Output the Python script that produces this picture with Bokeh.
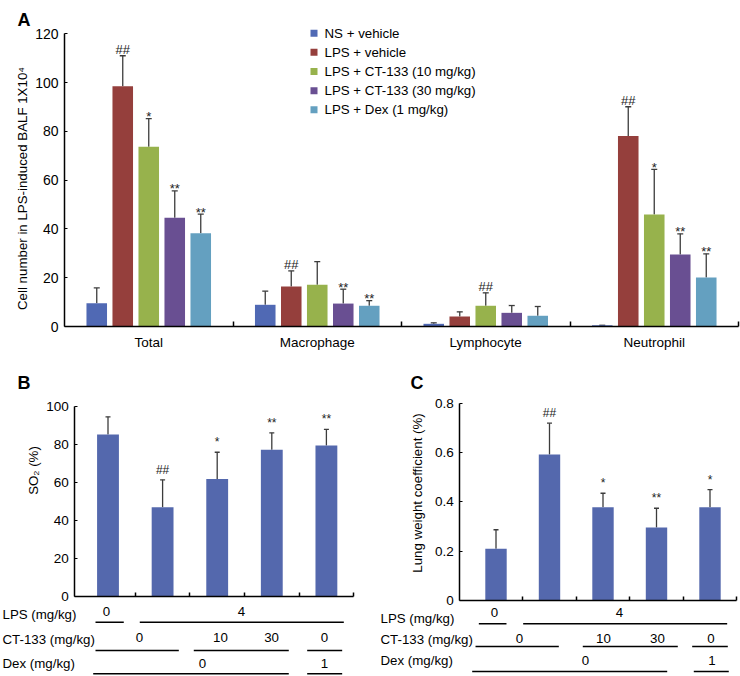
import numpy as np
from bokeh.plotting import figure
from bokeh.models import Range1d, LinearAxis, FixedTicker, ColumnDataSource, Whisker, TeeHead
from bokeh.layouts import column, row
from bokeh.embed import file_html
from bokeh.resources import INLINE
from bokeh.core.properties import value

# ---------------- data: panel A (BALF cell counts, x10^4) ----------------
cell_types = ["Total", "Macrophage", "Lymphocyte", "Neutrophil"]
group_names = ["NS + vehicle", "LPS + vehicle", "LPS + CT-133 (10 mg/kg)",
               "LPS + CT-133 (30 mg/kg)", "LPS + Dex (1 mg/kg)"]
a_ns_vehicle = [9.5, 8.9, 1.1, 0.5]
a_lps_vehicle = [98.5, 16.4, 4.1, 78.1]
a_lps_ct10 = [73.7, 17.1, 8.5, 45.9]
a_lps_ct30 = [44.6, 9.4, 5.6, 29.5]
a_lps_dex = [38.2, 8.5, 4.4, 20.1]
a_ns_vehicle_sd = [6.3, 5.6, 0.4, 0.0]
a_lps_vehicle_sd = [12.5, 6.4, 1.9, 12.0]
a_lps_ct10_sd = [11.5, 9.5, 5.3, 18.5]
a_lps_ct30_sd = [11.0, 5.9, 3.0, 8.5]
a_lps_dex_sd = [7.9, 2.1, 3.8, 9.7]
a_ns_vehicle_sig = ["", "", "", ""]
a_lps_vehicle_sig = ["##", "##", "", "##"]
a_lps_ct10_sig = ["*", "", "##", "*"]
a_lps_ct30_sig = ["**", "**", "", "**"]
a_lps_dex_sig = ["**", "**", "", "**"]
a_ticks = [0, 20, 40, 60, 80, 100, 120]

# ---------------- data: panel B (SO2 %) ----------------
b_mean = [85.1, 46.9, 61.8, 77.1, 79.3]
b_sd = [9.3, 14.4, 14.0, 8.9, 8.5]
b_sig = ["", "##", "*", "**", "**"]
b_ticks = [0, 20, 40, 60, 80, 100]

# ---------------- data: panel C (lung weight coefficient %) ----------------
c_mean = [0.21, 0.592, 0.378, 0.296, 0.378]
c_sd = [0.077, 0.127, 0.057, 0.078, 0.072]
c_sig = ["", "##", "*", "**", "*"]
c_ticks = [0, 0.2, 0.4, 0.6, 0.8]

# ---------------- dose table under B and C ----------------
dose_rows = ["LPS (mg/kg)", "CT-133 (mg/kg)", "Dex (mg/kg)"]
lps_dose = ["0", "4"]
ct133_dose = ["0", "10", "30", "0"]
dex_dose = ["0", "1"]

# ---------------- layout / style (positions in category units / px) ----------------
FONT = "Liberation Sans"
A_COLORS = ["#5069b4", "#953f3c", "#97b24c", "#694f92", "#64a0c0"]
BC_COLOR = "#5468ad"
ERR_COLOR = "#3c3c3c"

B_TABLE = dict(
    num_x=[[0.97, 3.445], [1.577, 3.06, 3.995, 4.965], [2.731, 4.965]],
    spans=[[(0.771, 1.289), (1.582, 5.319)],
           [(0.771, 2.297), (2.571, 4.311), (4.648, 5.289)],
           [(0.729, 4.311), (4.648, 5.289)]],
    row_dy=[18, 43.3, 66.7], num_dy=[15, 40.7, 66.7], line_dy=[25.7, 54, 77.3], label_px=2)
C_TABLE = dict(
    num_x=[[0.972, 3.308], [1.439, 3.009, 4.019, 5.019], [2.673, 5.037]],
    spans=[[(0.679, 1.196), (1.508, 5.321)],
           [(0.617, 2.174), (2.622, 4.398), (4.667, 5.333)],
           [(0.555, 4.2), (4.697, 5.351)]],
    row_dy=[18.3, 39.3, 60], num_dy=[11.7, 38, 60], line_dy=[23.3, 46, 71], label_px=10)


def base_fig(W, H, x_anchor, x_anchor_px, xs, y0_px, ys):
    x_start = x_anchor - x_anchor_px / xs
    x_end = x_start + W / xs
    y_end = y0_px / ys
    y_start = y_end - H / ys
    p = figure(width=W, height=H, x_range=Range1d(x_start, x_end),
               y_range=Range1d(y_start, y_end), x_axis_type=None, y_axis_type=None,
               toolbar_location=None, output_backend="svg", min_border=0)
    p.outline_line_color = None
    p.background_fill_color = "white"
    p.border_fill_color = "white"
    fx = lambda px: x_start + px / xs
    fy = lambda py: y_end - py / ys
    return p, fx, fy


def txt(p, x, y, s, size="13px", align="left", baseline="middle", angle=0.0, bold=False):
    p.text(x=[x], y=[y], text=[s], text_font=value(FONT), text_font_size=value(size),
           text_align=align, text_baseline=baseline, angle=angle,
           text_font_style="bold" if bold else "normal", text_color="black")


def style_axis(ax, size="13px"):
    ax.axis_line_color = "black"
    ax.axis_line_width = 1.5
    ax.major_tick_line_color = "black"
    ax.major_tick_line_width = 1.2
    ax.minor_tick_line_color = "black"
    ax.minor_tick_line_width = 1.5
    ax.major_label_text_font = FONT
    ax.major_label_text_font_size = size
    ax.major_label_text_color = "black"


def add_bars(p, xs_, means, sds, sigs, width, color, cap, gaps, sig_size):
    means = np.asarray(means, float)
    upper = means + np.asarray(sds, float)
    src = ColumnDataSource(dict(x=list(xs_), top=list(means), upper=list(upper), sig=sigs,
                                yoff=[-gaps[1] if "#" in s else -gaps[0] for s in sigs]))
    p.vbar(x="x", top="top", bottom=0, width=width, source=src, fill_color=color, line_color=None)
    p.add_layout(Whisker(source=src, base="x", upper="upper", lower="top", dimension="height",
                         line_color=ERR_COLOR, line_width=1.3,
                         upper_head=TeeHead(size=cap, line_color=ERR_COLOR, line_width=1.3),
                         lower_head=None))
    p.text(x="x", y="upper", text="sig", source=src, y_offset="yoff",
           text_font=value(FONT), text_font_size=value(sig_size),
           text_align="center", text_baseline="alphabetic", text_color="#222222")


# ======================= Panel A =======================
pA, AX, AY = base_fig(740, 352, 0, 64, 168.5, 326, 2.439)
n_cat = len(cell_types)
cat_x = np.arange(n_cat) + 0.5
a_means = [a_ns_vehicle, a_lps_vehicle, a_lps_ct10, a_lps_ct30, a_lps_dex]
a_sds = [a_ns_vehicle_sd, a_lps_vehicle_sd, a_lps_ct10_sd, a_lps_ct30_sd, a_lps_dex_sd]
a_sigs = [a_ns_vehicle_sig, a_lps_vehicle_sig, a_lps_ct10_sig, a_lps_ct30_sig, a_lps_dex_sig]
step = 0.1543
for i in range(len(group_names)):
    add_bars(pA, cat_x + (i - 2) * step, a_means[i], a_sds[i], a_sigs[i], 0.122,
             A_COLORS[i], 6, (2, 6), "13px")

yA = LinearAxis(fixed_location=0, bounds=(0, 120), ticker=FixedTicker(ticks=a_ticks))
style_axis(yA, "14px")
yA.major_tick_in = 3
yA.major_tick_out = 0
yA.major_label_standoff = 6
pA.add_layout(yA, "left")

xA = LinearAxis(fixed_location=0, bounds=(0, n_cat),
                ticker=FixedTicker(ticks=list(cat_x), minor_ticks=list(range(1, n_cat + 1))))
style_axis(xA, "13.5px")
xA.major_tick_in = 0
xA.major_tick_out = 0
xA.minor_tick_in = 5
xA.minor_tick_out = 0
xA.major_label_standoff = 8
xA.major_label_overrides = {float(x): c for x, c in zip(cat_x, cell_types)}
pA.add_layout(xA, "below")

txt(pA, AX(22), AY(188), "Cell number in LPS-induced BALF 1X10\u2074", angle=np.pi / 2,
    align="center", size="13.3px")
txt(pA, AX(17), AY(19.5), "A", size="18px", baseline="alphabetic", bold=True)

# legend
row_fy = [32.7 + 19.15 * i for i in range(len(group_names))]
pA.scatter(x=[AX(313.5)] * len(group_names), y=[AY(v) for v in row_fy], marker="square",
           size=7, fill_color=A_COLORS, line_color=None)
pA.text(x=[AX(324)] * len(group_names), y=[AY(v) for v in row_fy], text=group_names,
        text_font=value(FONT), text_font_size=value("13.3px"), text_align="left",
        text_baseline="middle", text_color="black")


# ======================= Panels B and C =======================
def dose_panel(means, sds, sigs, ticks, x_anchor_px, xs, y0_px, ys, axis_x0, ybound,
               ylabel, ylabel_pos, letter, letter_px, table, overrides=None):
    p, X, Y = base_fig(370, 324, 1, x_anchor_px, xs, y0_px, ys)
    n = len(means)
    bx = np.arange(1, n + 1)
    add_bars(p, bx, means, sds, sigs, 0.4, BC_COLOR, 5, (10, 10), "12px")

    ya = LinearAxis(fixed_location=axis_x0, bounds=(0, ybound), ticker=FixedTicker(ticks=ticks))
    style_axis(ya, "13.5px")
    ya.major_tick_in = 3
    ya.major_tick_out = 0
    ya.major_label_standoff = 6
    if overrides:
        ya.major_label_overrides = overrides
    p.add_layout(ya, "left")

    xa = LinearAxis(fixed_location=0, bounds=(axis_x0, n + 0.5),
                    ticker=FixedTicker(ticks=[], minor_ticks=list(bx + 0.5)))
    style_axis(xa)
    xa.major_tick_in = 0
    xa.major_tick_out = 0
    xa.minor_tick_in = 4
    xa.minor_tick_out = 0
    xa.major_label_text_font_size = "0px"
    p.add_layout(xa, "below")

    txt(p, X(ylabel_pos[0]), Y(ylabel_pos[1]), ylabel, angle=np.pi / 2, align="center",
        size="13.3px")
    txt(p, X(letter_px), Y(30), letter, size="18px", baseline="alphabetic", bold=True)

    doses = [lps_dose, ct133_dose, dex_dose]
    for r, name in enumerate(dose_rows):
        txt(p, X(table["label_px"]), Y(y0_px + table["row_dy"][r]), name, size="13.3px")
        yn = Y(y0_px + table["num_dy"][r])
        p.text(x=table["num_x"][r], y=[yn] * len(doses[r]), text=doses[r],
               text_font=value(FONT), text_font_size=value("13.3px"), text_align="center",
               text_baseline="middle", text_color="black")
        yl = Y(y0_px + table["line_dy"][r])
        sp = table["spans"][r]
        p.segment(x0=[s[0] for s in sp], x1=[s[1] for s in sp], y0=[yl] * len(sp),
                  y1=[yl] * len(sp), line_color="black", line_width=1.4)
    return p


pB = dose_panel(b_mean, b_sd, b_sig, b_ticks, 107.5, 54.6, 244, 1.903, 0.39, 100,
                "SO\u2082 (%)", (33, 118), "B", 17, B_TABLE)
pC = dose_panel(c_mean, c_sd, c_sig, c_ticks, 125.5, 53.5, 248, 246.6, 0.323, 0.8,
                "Lung weight coefficient (%)", (46.7, 140.5), "C", 40, C_TABLE,
                overrides={0: "0"})

layout = column(pA, row(pB, pC))
open("out.html", "w").write(file_html(layout, INLINE))
